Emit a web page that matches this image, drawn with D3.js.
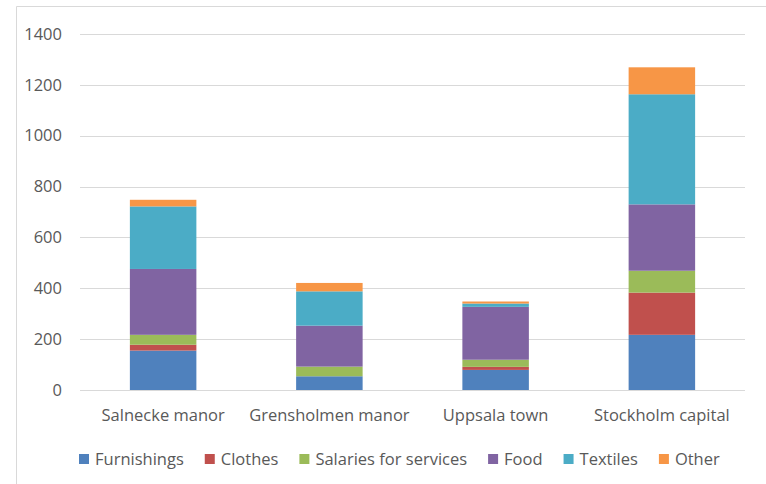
<!DOCTYPE html>
<html lang="en">
<head>
  <meta charset="UTF-8">
  <title>Expenses by household</title>
  <style>
    body { margin: 0; background: #fff; }
    svg text { font-family: "Open Sans", "Noto Sans", sans-serif; fill: #595959; }
  </style>
</head>
<body>
  <script src="https://d3js.org/d3.v7.min.js"></script>
  <script>
    const places = ["Salnecke manor", "Grensholmen manor", "Uppsala town", "Stockholm capital"];
    const series = ["Furnishings", "Clothes", "Salaries for services", "Food", "Textiles", "Other"];
    const colors = ["#4f81bd", "#c0504d", "#9bbb59", "#8064a2", "#4bacc6", "#f79646"];

    const furnishings = [155, 54, 79, 217];
    const clothes = [23, 0, 12, 166];
    const salaries = [39, 38, 28, 86];
    const food = [259, 161, 208, 261];
    const textiles = [246, 135, 13, 433];
    const other = [26, 33, 8, 106];
    const yTicks = [0, 200, 400, 600, 800, 1000, 1200, 1400];

    const values = [furnishings, clothes, salaries, food, textiles, other];
    const rows = places.map((p, i) => {
      const r = { place: p };
      series.forEach((s, j) => { r[s] = values[j][i]; });
      return r;
    });

    const width = 766, height = 484;
    const fs = 16.5;
    const svg = d3.select("body").append("svg").attr("width", width).attr("height", height);

    // chart frame (cut at right/bottom like the screenshot)
    svg.append("path").attr("d", "M16.5,484 V6.5 H766")
      .attr("fill", "none").attr("stroke", "#d9d9d9").attr("stroke-width", 1);

    const x = d3.scaleBand().domain(places).range([80, 745]).paddingInner(0.6).paddingOuter(0.3);
    const y = d3.scaleLinear().domain([0, 1400]).range([390, 34]);

    svg.append("g").selectAll("line").data(yTicks).join("line")
      .attr("x1", 80).attr("x2", 745)
      .attr("y1", d => Math.round(y(d)) + 0.5).attr("y2", d => Math.round(y(d)) + 0.5)
      .attr("stroke", "#d9d9d9").attr("stroke-width", 1);

    svg.append("g").selectAll("text").data(yTicks).join("text")
      .attr("x", 62).attr("y", d => y(d)).attr("dy", "0.35em")
      .attr("text-anchor", "end").attr("font-size", fs)
      .text(d => d);

    const stacked = d3.stack().keys(series)(rows);
    svg.append("g").selectAll("g").data(stacked).join("g")
      .attr("fill", (d, i) => colors[i])
      .selectAll("rect").data(d => d).join("rect")
      .attr("x", d => x(d.data.place))
      .attr("width", x.bandwidth())
      .attr("y", d => y(d[1]))
      .attr("height", d => y(d[0]) - y(d[1]));

    svg.append("g").selectAll("text").data(places).join("text")
      .attr("x", d => x(d) + x.bandwidth() / 2).attr("y", 421)
      .attr("text-anchor", "middle").attr("font-size", fs)
      .text(d => d);

    // legend
    const legend = svg.append("g");
    let lx = 79;
    series.forEach((s, i) => {
      legend.append("rect").attr("x", lx).attr("y", 454).attr("width", 10).attr("height", 10)
        .attr("fill", colors[i]);
      const t = legend.append("text").attr("x", lx + 16).attr("y", 459).attr("dy", "0.35em")
        .attr("font-size", fs).text(s);
      lx += 16 + t.node().getComputedTextLength() + 21;
    });
  </script>
</body>
</html>
